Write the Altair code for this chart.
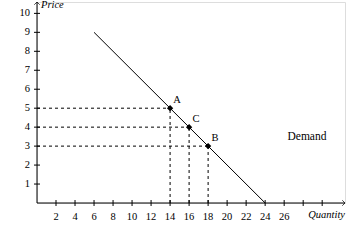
import altair as alt
import pandas as pd

# Data
demand_q = [6, 24]
demand_p = [9, 0]
pt_label = ["A", "C", "B"]
pt_q = [14, 16, 18]
pt_p = [5, 4, 3]
x_ticks = [2, 4, 6, 8, 10, 12, 14, 16, 18, 20, 22, 24, 26, 28, 30]
x_labels = [2, 4, 6, 8, 10, 12, 14, 16, 18, 20, 22, 24, 26]
y_ticks = [1, 2, 3, 4, 5, 6, 7, 8, 9, 10]

XMAX, YMAX = 32.4, 10.6
FONT = "Liberation Serif"

xs = alt.Scale(domain=[0, XMAX], nice=False, zero=False)
ys = alt.Scale(domain=[0, YMAX], nice=False, zero=False)

line_df = pd.DataFrame({"q": demand_q, "p": demand_p})
pts_df = pd.DataFrame({"lab": pt_label, "q": pt_q, "p": pt_p, "z": [0, 0, 0]})
xt_df = pd.DataFrame({"q": x_ticks})
yt_df = pd.DataFrame({"p": y_ticks})
xl_df = pd.DataFrame({"q": x_labels, "t": [str(v) for v in x_labels]})
yl_df = pd.DataFrame({"p": y_ticks, "t": [str(v) for v in y_ticks]})

NX = alt.X("q:Q", scale=xs, axis=None)
NY = alt.Y("p:Q", scale=ys, axis=None)

x_axis_line = alt.Chart(pd.DataFrame({"q": [0], "b": [XMAX]})).mark_rule(color="black", strokeWidth=1).encode(
    x=NX, x2="b:Q", y=alt.value(201))
y_axis_line = alt.Chart(pd.DataFrame({"p": [0], "b": [YMAX]})).mark_rule(color="black", strokeWidth=1).encode(
    y=NY, y2="b:Q", x=alt.value(0))

x_tick_marks = alt.Chart(xt_df).mark_rule(color="black").encode(
    x=NX, y=alt.value(198), y2=alt.value(204))
y_tick_marks = alt.Chart(yt_df).mark_rule(color="black").encode(
    y=NY, x=alt.value(-3), x2=alt.value(3))

x_tick_labels = alt.Chart(xl_df).mark_text(font=FONT, fontSize=10.5, color="black", baseline="middle").encode(
    x=NX, y=alt.value(215), text="t:N")
y_tick_labels = alt.Chart(yl_df).mark_text(font=FONT, fontSize=10.5, color="black", align="right",
                                           baseline="middle", dx=-7).encode(
    y=NY, x=alt.value(0), text="t:N")

arrow_x = alt.Chart(pd.DataFrame({"q": [XMAX], "p": [0]})).mark_point(
    shape="M -1 -1 L 0 0 L -1 1", filled=False, color="black", size=30, strokeWidth=1).encode(x=NX, y=NY)
arrow_y = alt.Chart(pd.DataFrame({"q": [0], "p": [YMAX]})).mark_point(
    shape="M -1 1 L 0 0 L 1 1", filled=False, color="black", size=30, strokeWidth=1).encode(x=NX, y=NY)

demand = alt.Chart(line_df).mark_line(color="black", strokeWidth=1).encode(x=NX, y=NY)

hdash = alt.Chart(pts_df).mark_rule(color="black", strokeWidth=1, strokeDash=[3, 3]).encode(
    x=alt.X("z:Q", scale=xs, axis=None), x2="q:Q", y=NY)
vdash = alt.Chart(pts_df).mark_rule(color="black", strokeWidth=1, strokeDash=[3, 3]).encode(
    y=alt.Y("z:Q", scale=ys, axis=None), y2="p:Q", x=NX)

dots = alt.Chart(pts_df).mark_point(shape="diamond", filled=True, color="black", size=40, opacity=1).encode(
    x=NX, y=NY)
dot_labels = alt.Chart(pts_df).mark_text(font=FONT, fontSize=10.5, dx=7, dy=-8, color="black").encode(
    x=NX, y=NY, text="lab:N")

demand_lbl = alt.Chart(pd.DataFrame({"t": ["Demand"]})).mark_text(
    font=FONT, fontSize=11.5, color="black").encode(x=alt.value(270), y=alt.value(135), text="t:N")
price_lbl = alt.Chart(pd.DataFrame({"t": ["Price"]})).mark_text(
    font=FONT, fontSize=10.5, fontStyle="italic", align="left", color="black").encode(
    x=alt.value(4), y=alt.value(3), text="t:N")
qty_lbl = alt.Chart(pd.DataFrame({"t": ["Quantity"]})).mark_text(
    font=FONT, fontSize=10.5, fontStyle="italic", align="right", color="black").encode(
    x=alt.value(308), y=alt.value(213), text="t:N")

chart = alt.layer(
    x_axis_line, y_axis_line, x_tick_marks, y_tick_marks, x_tick_labels, y_tick_labels, arrow_x, arrow_y,
    hdash, vdash, demand, dots, dot_labels, demand_lbl, price_lbl, qty_lbl
).properties(
    width=308, height=201, autosize=alt.AutoSizeParams(type="none"),
    padding={"left": 37, "top": 2, "right": 2, "bottom": 37}
).configure_view(stroke=None).configure(background="white")

chart.save("out.html", embed_options={"renderer": "svg", "actions": False})
